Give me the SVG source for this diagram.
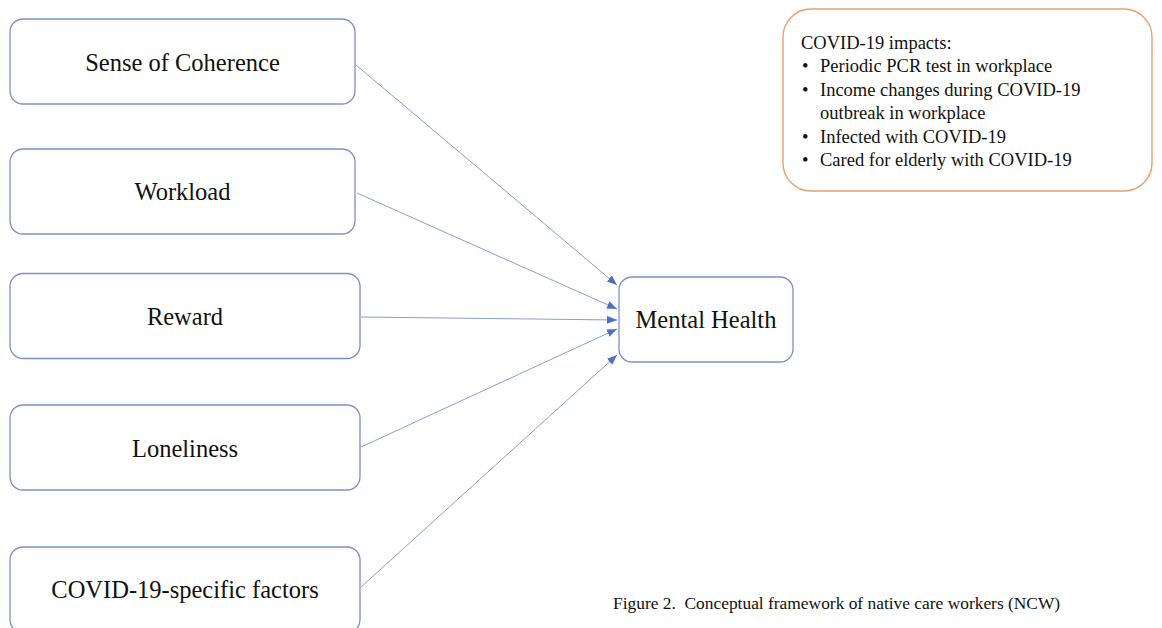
<svg xmlns="http://www.w3.org/2000/svg" width="1162" height="628" viewBox="0 0 1162 628">
<style>
.box{fill:#ffffff;stroke:#7b91c8;stroke-width:1.3}
.note{fill:#ffffff;stroke:#e9a06d;stroke-width:1.4}
.lbl{font-family:"Liberation Serif","Times New Roman",serif;font-size:24.5px;fill:#111;text-anchor:middle}
.nt{font-family:"Liberation Serif","Times New Roman",serif;font-size:18.5px;fill:#111}
.cap{font-family:"Liberation Serif","Times New Roman",serif;font-size:17.4px;fill:#111}
.edge{stroke:#7d93d0;stroke-width:0.9;fill:none;marker-end:url(#ah)}
</style>
<defs>
<marker id="ah" markerUnits="userSpaceOnUse" markerWidth="11" markerHeight="9" refX="10" refY="4" orient="auto">
<path d="M0,0 L10,4 L0,8 z" fill="#4d6fc4"/>
</marker>
</defs>
<rect width="1162" height="628" fill="#ffffff"/>
<g id="connectors">
<line class="edge" x1="356" y1="65" x2="617" y2="285"/>
<line class="edge" x1="357" y1="193" x2="617" y2="309"/>
<line class="edge" x1="361" y1="317" x2="617" y2="320"/>
<line class="edge" x1="361" y1="447" x2="617" y2="329"/>
<line class="edge" x1="361" y1="587" x2="617" y2="355"/>
</g>
<g id="n-soc">
<rect class="box" x="10" y="19" width="345" height="85" rx="13"/>
<text class="lbl" x="182.5" y="70.5">Sense of Coherence</text>
</g>
<g id="n-workload">
<rect class="box" x="10" y="149" width="345" height="85" rx="13"/>
<text class="lbl" x="182.5" y="200">Workload</text>
</g>
<g id="n-reward">
<rect class="box" x="10" y="273.5" width="350" height="85" rx="13"/>
<text class="lbl" x="185" y="324.5">Reward</text>
</g>
<g id="n-loneliness">
<rect class="box" x="10" y="405" width="350" height="85" rx="13"/>
<text class="lbl" x="185" y="456.5">Loneliness</text>
</g>
<g id="n-covid">
<rect class="box" x="10" y="547" width="350" height="86" rx="13"/>
<text class="lbl" x="185" y="598">COVID-19-specific factors</text>
</g>
<g id="n-mental">
<rect class="box" x="619" y="277" width="174" height="85" rx="13"/>
<text class="lbl" x="706" y="328">Mental Health</text>
</g>
<g id="n-impacts">
<rect class="note" x="783" y="9" width="369" height="182" rx="28"/>
<text class="nt" x="801" y="48.5">COVID-19 impacts:</text>
<text class="nt" x="802" y="72">•</text><text class="nt" x="820" y="72">Periodic PCR test in workplace</text>
<text class="nt" x="802" y="95.5">•</text><text class="nt" x="820" y="95.5">Income changes during COVID-19</text>
<text class="nt" x="820" y="119">outbreak in workplace</text>
<text class="nt" x="802" y="142.5">•</text><text class="nt" x="820" y="142.5">Infected with COVID-19</text>
<text class="nt" x="802" y="166">•</text><text class="nt" x="820" y="166">Cared for elderly with COVID-19</text>
</g>
<text class="cap" x="613" y="609" xml:space="preserve">Figure 2.  Conceptual framework of native care workers (NCW)</text>
</svg>
